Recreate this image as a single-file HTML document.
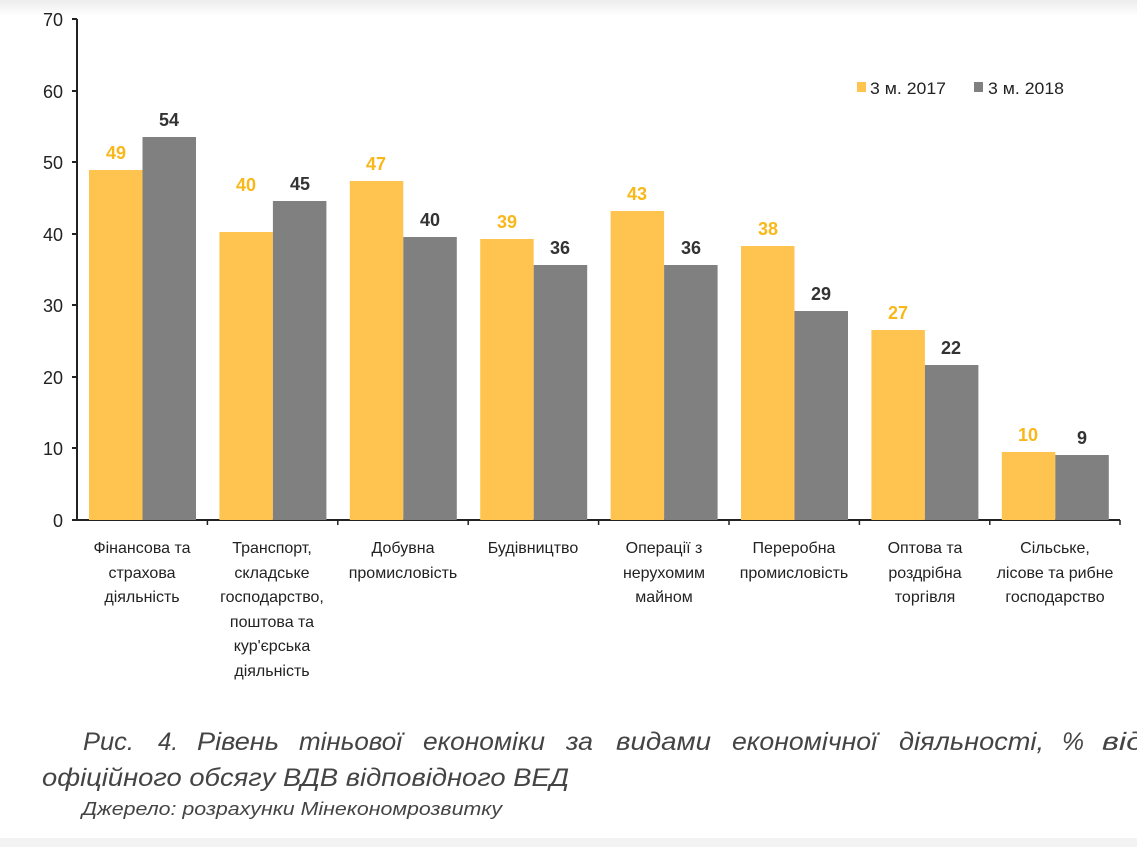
<!DOCTYPE html>
<html><head><meta charset="utf-8"><style>
html,body{margin:0;padding:0;background:#fff;}
svg{display:block;font-family:"Liberation Sans",sans-serif;}
</style></head><body>
<svg width="1137" height="847" viewBox="0 0 1137 847" xmlns="http://www.w3.org/2000/svg">
<defs><linearGradient id="tg" x1="0" y1="0" x2="0" y2="1"><stop offset="0" stop-color="#ececec"/><stop offset="1" stop-color="#fff"/></linearGradient></defs>
<rect width="1137" height="847" fill="#fff"/>
<rect width="1137" height="16" fill="url(#tg)"/>
<rect y="838" width="1137" height="9" fill="#f3f3f3"/>
<g stroke="#222" stroke-width="2" fill="none">
<line x1="77" y1="19" x2="77" y2="521"/>
<line x1="77" y1="520" x2="1120" y2="520"/>
<line x1="72" y1="19" x2="77" y2="19"/><line x1="72" y1="91" x2="77" y2="91"/><line x1="72" y1="162" x2="77" y2="162"/><line x1="72" y1="234" x2="77" y2="234"/><line x1="72" y1="305" x2="77" y2="305"/><line x1="72" y1="377" x2="77" y2="377"/><line x1="72" y1="448" x2="77" y2="448"/><line x1="72" y1="520" x2="77" y2="520"/>
</g>
<g stroke="#222" stroke-width="1.5">
<line x1="207.4" y1="520" x2="207.4" y2="525"/><line x1="337.8" y1="520" x2="337.8" y2="525"/><line x1="468.2" y1="520" x2="468.2" y2="525"/><line x1="598.6" y1="520" x2="598.6" y2="525"/><line x1="729" y1="520" x2="729" y2="525"/><line x1="859.4" y1="520" x2="859.4" y2="525"/><line x1="989.8" y1="520" x2="989.8" y2="525"/><line x1="1120" y1="520" x2="1120" y2="525"/>
</g>
<g font-size="18" fill="#222" text-anchor="end">
<text x="63" y="26">70</text><text x="63" y="98">60</text><text x="63" y="169">50</text><text x="63" y="241">40</text><text x="63" y="312">30</text><text x="63" y="384">20</text><text x="63" y="455">10</text><text x="63" y="527">0</text>
</g>
<g fill="#fec44f">
<rect x="89" y="170" width="53.5" height="350"/>
<rect x="219.4" y="232" width="53.5" height="288"/>
<rect x="349.8" y="181" width="53.5" height="339"/>
<rect x="480.2" y="239" width="53.5" height="281"/>
<rect x="610.6" y="211" width="53.5" height="309"/>
<rect x="741" y="246" width="53.5" height="274"/>
<rect x="871.4" y="330" width="53.5" height="190"/>
<rect x="1001.8" y="452" width="53.5" height="68"/>
</g>
<g fill="#808080">
<rect x="142.5" y="137" width="53.5" height="383"/>
<rect x="272.9" y="201" width="53.5" height="319"/>
<rect x="403.3" y="237" width="53.5" height="283"/>
<rect x="533.7" y="265" width="53.5" height="255"/>
<rect x="664.1" y="265" width="53.5" height="255"/>
<rect x="794.5" y="311" width="53.5" height="209"/>
<rect x="924.9" y="365" width="53.5" height="155"/>
<rect x="1055.3" y="455" width="53.5" height="65"/>
</g>
<g font-size="18" font-weight="bold" text-anchor="middle">
<g fill="#f8b81a">
<text x="116" y="159">49</text><text x="246" y="191">40</text><text x="376" y="170">47</text><text x="507" y="228">39</text><text x="637" y="200">43</text><text x="768" y="235">38</text><text x="898" y="319">27</text><text x="1028" y="441">10</text>
</g>
<g fill="#333">
<text x="169" y="126">54</text><text x="300" y="190">45</text><text x="430" y="226">40</text><text x="560" y="254">36</text><text x="691" y="254">36</text><text x="821" y="300">29</text><text x="951" y="354">22</text><text x="1082" y="444">9</text>
</g>
</g>
<rect x="857" y="82" width="9" height="10" fill="#fec44f"/>
<text x="870" y="94" font-size="17" fill="#222" textLength="76" lengthAdjust="spacingAndGlyphs">3 м. 2017</text>
<rect x="974" y="82" width="9" height="10" fill="#808080"/>
<text x="988" y="94" font-size="17" fill="#222" textLength="76" lengthAdjust="spacingAndGlyphs">3 м. 2018</text>
<g font-size="16" fill="#222" text-anchor="middle">
<text x="142" y="553">Фінансова та</text><text x="142" y="578">страхова</text><text x="142" y="602">діяльність</text>
<text x="272" y="553">Транспорт,</text><text x="272" y="578">складське</text><text x="272" y="602">господарство,</text><text x="272" y="627">поштова та</text><text x="272" y="651">кур'єрська</text><text x="272" y="676">діяльність</text>
<text x="403" y="553">Добувна</text><text x="403" y="578">промисловість</text>
<text x="533" y="553">Будівництво</text>
<text x="664" y="553">Операції з</text><text x="664" y="578">нерухомим</text><text x="664" y="602">майном</text>
<text x="794" y="553">Переробна</text><text x="794" y="578">промисловість</text>
<text x="925" y="553">Оптова та</text><text x="925" y="578">роздрібна</text><text x="925" y="602">торгівля</text>
<text x="1055" y="553">Сільське,</text><text x="1055" y="578">лісове та рибне</text><text x="1055" y="602">господарство</text>
</g>
<g font-style="italic" fill="#444" font-size="25" lengthAdjust="spacingAndGlyphs">
<text x="83" y="750" textLength="51" lengthAdjust="spacingAndGlyphs">Рис.</text>
<text x="158" y="750" textLength="20" lengthAdjust="spacingAndGlyphs">4.</text>
<text x="197" y="750" textLength="82" lengthAdjust="spacingAndGlyphs">Рівень</text>
<text x="299" y="750" textLength="103" lengthAdjust="spacingAndGlyphs">тіньової</text>
<text x="423" y="750" textLength="122" lengthAdjust="spacingAndGlyphs">економіки</text>
<text x="566" y="750" textLength="27" lengthAdjust="spacingAndGlyphs">за</text>
<text x="616" y="750" textLength="95" lengthAdjust="spacingAndGlyphs">видами</text>
<text x="732" y="750" textLength="145" lengthAdjust="spacingAndGlyphs">економічної</text>
<text x="899" y="750" textLength="145" lengthAdjust="spacingAndGlyphs">діяльності,</text>
<text x="1062" y="750" textLength="22" lengthAdjust="spacingAndGlyphs">%</text>
<text x="1102" y="750" textLength="42" lengthAdjust="spacingAndGlyphs">від</text>
<text x="42" y="786" textLength="527" lengthAdjust="spacingAndGlyphs">офіційного обсягу ВДВ відповідного ВЕД</text>
<text x="82" y="815" font-size="18" textLength="420" lengthAdjust="spacingAndGlyphs">Джерело: розрахунки Мінекономрозвитку</text>
</g>
</svg>
</body></html>
